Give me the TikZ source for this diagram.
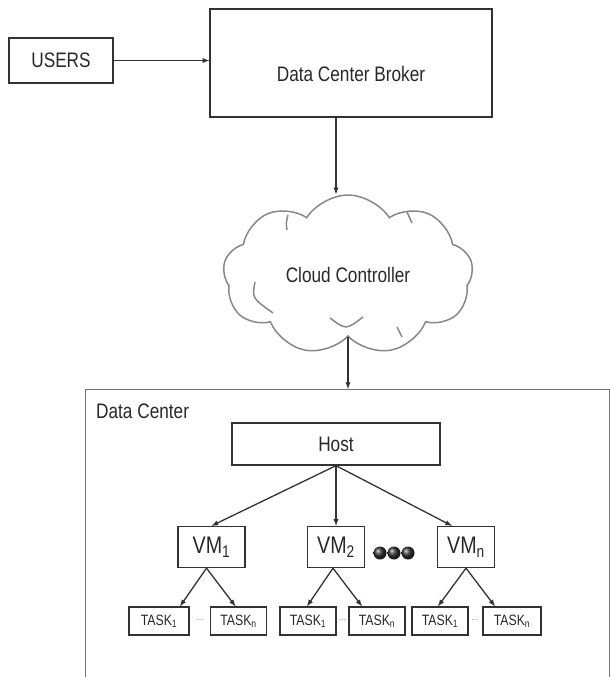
\documentclass[tikz,border=0pt]{standalone}
\usepackage{fontspec}
\setmainfont{Liberation Sans}[FakeStretch=0.82]
\usetikzlibrary{shapes,arrows,positioning}
\definecolor{boxline}{RGB}{50,50,50}
\definecolor{cloudline}{RGB}{135,135,135}
\definecolor{dcline}{RGB}{115,115,115}
\definecolor{txt}{RGB}{40,40,40}

\tikzset{
  box/.style={rectangle, draw=boxline, line width=1.3pt, text=txt, inner sep=0pt},
  bigtext/.style={font=\fontsize{21}{21}\selectfont, text=txt},
  vmbox/.style={box, minimum width=57pt, minimum height=41pt, font=\fontsize{24}{24}\selectfont},
  taskbox/.style={box, minimum width=56pt, minimum height=28pt, font=\fontsize{15}{15}\selectfont},
  gap/.style={font=\fontsize{9}{9}\selectfont, text=black!55, inner sep=0pt},
  arr/.style={-latex, line width=1.3pt, draw=boxline},
}

\begin{document}
\begin{tikzpicture}[x=1pt, y=-1pt]
\useasboundingbox (0,0) rectangle (610,677);

% users and broker
\node[box, bigtext, minimum width=104pt, minimum height=45pt] (users) at (61,60.5) {USERS};
\node[box, minimum width=282pt, minimum height=108pt] (broker) at (351,63) {};
\node[bigtext] (brokertext) at ([yshift=-11pt]broker.center) {Data Center Broker};
\draw[arr] (users.east) -- (users.east -| broker.west);

% cloud controller
\node[cloud, draw=cloudline, line width=1.5pt, cloud puffs=9, cloud puff arc=115,
      cloud ignores aspect, minimum width=250pt, minimum height=160pt, bigtext] (cloud) at (348,275) {Cloud Controller};
\begin{scope}[shift={(cloud.center)}, draw=cloudline, line width=1.5pt]
  \draw (-93,7) .. controls (-96,23) .. (-75,38);
  \draw (-18,43) .. controls (-2,55) .. (15,42);
  \draw (-60,-60) .. controls (-62,-52) .. (-61,-45);
  \draw (59,-63) .. controls (62,-57) .. (64,-52);
  \draw (49,52) .. controls (52,57) .. (54,62);
\end{scope}
\draw[arr] ([xshift=-15pt]broker.south) -- ([xshift=-15pt]broker.south |- cloud.north);

% data center
\node[draw=dcline, line width=1.4pt, inner sep=0pt, anchor=north west,
      minimum width=524pt, minimum height=330pt] (dc) at (85,389) {};
\node[bigtext, anchor=base west, inner sep=0pt] (dclabel) at (96,418) {Data Center};
\draw[arr] (cloud.south) -- (cloud.south |- dc.north);

\node[box, bigtext, minimum width=208pt, minimum height=42pt] (host) at (336,444) {Host};

% virtual machines
\node[vmbox, minimum width=67pt] (vm1) at (211.5,547) {VM\textsubscript{1}};
\node[vmbox] (vm2) at (336,547) {VM\textsubscript{2}};
\node[vmbox] (vmn) at (466,547) {VM\textsubscript{n}};
\foreach \dx in {380,394,408}
  \shade[ball color=black!80] (\dx,553) circle (6.5pt);
\draw[arr] (host.south) -- (vm1.north);
\draw[arr] (host.south) -- (vm2.north);
\draw[arr] (host.south) -- ([xshift=-14pt]vmn.north);

% tasks
\node[taskbox, minimum width=60pt] (t11) at (159,621) {TASK\textsubscript{1}};
\node[taskbox] (t1n) at (238.5,621) {TASK\textsubscript{n}};
\node[taskbox] (t21) at (308,621) {TASK\textsubscript{1}};
\node[taskbox] (t2n) at (377,621) {TASK\textsubscript{n}};
\node[taskbox] (t31) at (440,621) {TASK\textsubscript{1}};
\node[taskbox, minimum width=58pt] (t3n) at (512,621) {TASK\textsubscript{n}};
\node[gap] (gap1) at (200,621) {···};
\node[gap] (gap2) at (342.5,621) {···};
\node[gap] (gap3) at (475,621) {···};

\draw[arr] ([xshift=-5pt]vm1.south) -- ([xshift=21pt]t11.north);
\draw[arr] ([xshift=-5pt]vm1.south) -- ([xshift=-3pt]t1n.north);
\draw[arr] ([xshift=-3pt]vm2.south) -- ([xshift=-1pt]t21.north);
\draw[arr] ([xshift=-3pt]vm2.south) -- ([xshift=-15pt]t2n.north);
\draw[arr] (vmn.south) -- ([xshift=-2pt]t31.north);
\draw[arr] (vmn.south) -- ([xshift=-17pt]t3n.north);
\end{tikzpicture}
\end{document}
